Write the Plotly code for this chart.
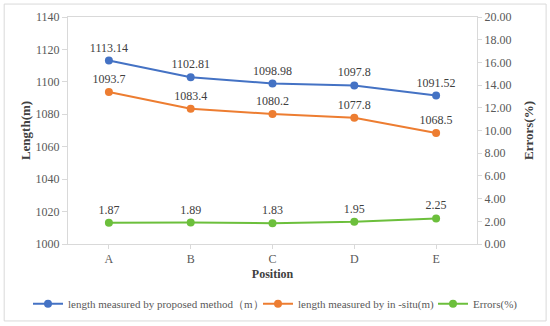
import plotly.graph_objects as go

positions = ["A", "B", "C", "D", "E"]
proposed = [1113.14, 1102.81, 1098.98, 1097.8, 1091.52]
in_situ = [1093.7, 1083.4, 1080.2, 1077.8, 1068.5]
errors = [1.87, 1.89, 1.83, 1.95, 2.25]
proposed_labels = ["1113.14", "1102.81", "1098.98", "1097.8", "1091.52"]
in_situ_labels = ["1093.7", "1083.4", "1080.2", "1077.8", "1068.5"]
error_labels = ["1.87", "1.89", "1.83", "1.95", "2.25"]
left_ticks = [1000, 1020, 1040, 1060, 1080, 1100, 1120, 1140]
right_ticks = [0, 2, 4, 6, 8, 10, 12, 14, 16, 18, 20]

FONT = "Liberation Serif"
BLUE = "#4472C4"
ORANGE = "#ED7D31"
GREEN = "#6CBF3C"
TXT = "#595959"

fig = go.Figure()
fig.add_trace(go.Scatter(
    x=positions, y=proposed, mode="lines+markers+text", text=proposed_labels,
    textposition="top center", name="length measured by proposed method（m）",
    line=dict(color=BLUE, width=2), marker=dict(size=8, color=BLUE), legend="legend",
    textfont=dict(family=FONT, size=12, color="#404040"), cliponaxis=False))
fig.add_trace(go.Scatter(
    x=positions, y=in_situ, mode="lines+markers+text", text=in_situ_labels,
    textposition="top center", name="length measured by in -situ(m)",
    line=dict(color=ORANGE, width=2), marker=dict(size=8, color=ORANGE), legend="legend2",
    textfont=dict(family=FONT, size=12, color="#404040"), cliponaxis=False))
fig.add_trace(go.Scatter(
    x=positions, y=errors, mode="lines+markers+text", text=error_labels,
    textposition="top center", name="Errors(%)", yaxis="y2",
    line=dict(color=GREEN, width=2), marker=dict(size=8, color=GREEN), legend="legend3",
    textfont=dict(family=FONT, size=12, color="#404040"), cliponaxis=False))

legend_style = dict(orientation="h", xref="container", yref="container",
                    xanchor="left", yanchor="middle", y=0.068, itemwidth=30,
                    font=dict(family=FONT, size=11, color=TXT), bgcolor="rgba(0,0,0,0)")

fig.update_layout(
    width=550, height=326,
    margin=dict(l=68, r=73, t=17, b=82, autoexpand=False),
    paper_bgcolor="white", plot_bgcolor="white",
    font=dict(family=FONT, size=12, color=TXT),
    showlegend=True,
    legend=dict(legend_style, x=28 / 550),
    legend2=dict(legend_style, x=258 / 550),
    legend3=dict(legend_style, x=433 / 550),
    xaxis=dict(
        type="category", range=[-0.5, 4.5], showgrid=False,
        showline=True, linecolor="#D9D9D9", linewidth=1, mirror=True,
        ticks="outside", ticklen=4, tickcolor="#D9D9D9",
        tickfont=dict(family=FONT, size=12, color=TXT),
        title=dict(text="<b>Position</b>", font=dict(family=FONT, size=12, color="#404040"), standoff=4),
    ),
    yaxis=dict(
        range=[1000, 1140], tickvals=left_ticks, showgrid=False, zeroline=False,
        showline=True, linecolor="#D9D9D9", linewidth=1,
        ticks="outside", ticklen=5, tickcolor="#D9D9D9",
        tickfont=dict(family=FONT, size=12, color=TXT),
        title=dict(text="<b>Length(m)</b>", font=dict(family=FONT, size=13, color="#404040"), standoff=2),
    ),
    yaxis2=dict(
        range=[0, 20], tickvals=right_ticks, tickformat=".2f", overlaying="y", side="right",
        showgrid=False, zeroline=False,
        showline=True, linecolor="#D9D9D9", linewidth=1,
        ticks="outside", ticklen=4, tickcolor="#D9D9D9",
        tickfont=dict(family=FONT, size=12, color=TXT),
        title=dict(text="<b>Errors(%)</b>", font=dict(family=FONT, size=13, color="#404040"), standoff=13),
    ),
    shapes=[dict(type="rect", xref="paper", yref="paper",
                 x0=-0.156, x1=1.169, y0=-0.339, y1=1.057,
                 line=dict(color="#D9D9D9", width=1), layer="below")],
)

fig.write_html("out.html", config={"displayModeBar": False},
               post_script="document.body.style.margin='0';")
